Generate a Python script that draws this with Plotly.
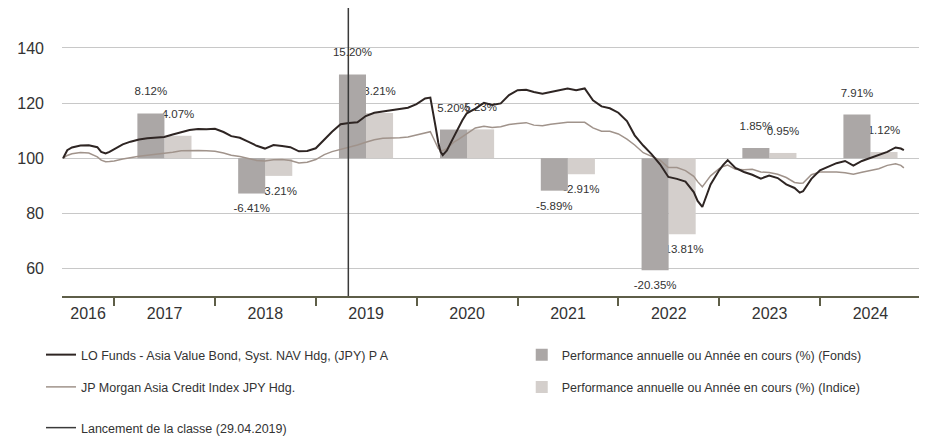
import pandas as pd
import plotly.graph_objects as go

# ---------------- data ----------------
dates = [
    "2016-06-30", "2016-07-15", "2016-08-01", "2016-09-01", "2016-10-01", "2016-11-01", "2016-11-15",
    "2016-12-01", "2016-12-15",
    "2017-01-01", "2017-02-01", "2017-03-01", "2017-04-01", "2017-05-01", "2017-06-01", "2017-07-01",
    "2017-08-01", "2017-09-01", "2017-10-01", "2017-11-01", "2017-12-01",
    "2018-01-01", "2018-02-01", "2018-03-01", "2018-04-01", "2018-05-01", "2018-06-01", "2018-07-01",
    "2018-08-01", "2018-09-01", "2018-10-01", "2018-11-01", "2018-12-01",
    "2019-01-01", "2019-02-01", "2019-03-01", "2019-04-01", "2019-05-01", "2019-06-01", "2019-07-01",
    "2019-08-01", "2019-09-01", "2019-10-01", "2019-11-01", "2019-12-01",
    "2020-01-01", "2020-02-01", "2020-02-20", "2020-03-01", "2020-03-10", "2020-03-20", "2020-03-28",
    "2020-04-05", "2020-04-20", "2020-05-01", "2020-05-15", "2020-06-01", "2020-06-15", "2020-07-01",
    "2020-08-01", "2020-09-01", "2020-10-01", "2020-11-01", "2020-12-01",
    "2021-01-01", "2021-02-01", "2021-03-01", "2021-04-01", "2021-05-01", "2021-06-01", "2021-07-01",
    "2021-08-01", "2021-09-01", "2021-10-01", "2021-11-01", "2021-12-01",
    "2022-01-01", "2022-02-01", "2022-03-01", "2022-04-01", "2022-05-01", "2022-06-01", "2022-07-01",
    "2022-08-01", "2022-09-01", "2022-10-01", "2022-10-15", "2022-11-01", "2022-11-15", "2022-12-01",
    "2023-01-01", "2023-01-15", "2023-02-01", "2023-03-01", "2023-04-01", "2023-05-01", "2023-06-01",
    "2023-07-01", "2023-08-01", "2023-09-01", "2023-10-01", "2023-10-20", "2023-11-01", "2023-12-01",
    "2024-01-01", "2024-02-01", "2024-03-01", "2024-04-01", "2024-05-01", "2024-06-01", "2024-07-01",
    "2024-08-01", "2024-09-01", "2024-10-01", "2024-10-20", "2024-10-31",
]
fund_nav = [
    100.0, 102.9, 103.9, 104.6, 104.7, 104.0, 102.3, 101.7, 102.3,
    103.3, 105.0, 106.0, 106.8, 107.2, 107.4, 107.7, 108.6, 109.5, 110.2, 110.6, 110.5,
    110.7, 109.5, 108.0, 107.4, 106.0, 104.5, 103.5, 104.8, 104.4, 104.0, 102.5, 102.6,
    103.6, 106.8, 109.6, 112.3, 112.8, 113.0, 115.3, 116.5, 117.0, 117.4, 117.8, 118.3,
    119.6, 121.7, 122.0, 117.0, 111.4, 105.5, 102.3, 101.1, 102.8, 105.0, 107.8, 111.4, 113.8, 116.3,
    118.0, 120.1, 119.3, 119.9, 122.9,
    124.7, 124.8, 124.0, 123.4, 124.0, 124.6, 125.3, 124.7, 125.3, 121.0, 118.8, 118.1,
    116.5, 113.5, 108.3, 104.6, 101.5, 97.8, 93.2, 92.5, 91.5, 87.7, 84.5, 82.3, 86.5, 90.5,
    95.6, 97.5, 99.3, 96.5, 95.0, 94.0, 92.6, 93.7, 92.8, 90.5, 89.2, 87.5, 88.0, 92.5,
    95.6, 96.8, 98.2, 99.0, 97.3, 99.0, 100.0, 101.2, 102.3, 103.9, 103.5, 102.9,
]
index_nav = [
    100.0, 101.0, 101.6, 102.1, 101.9, 100.5, 99.3, 98.7, 98.8,
    99.0, 99.7, 100.3, 100.7, 101.1, 101.4, 101.7, 102.2, 102.7, 102.8, 102.8, 102.7,
    102.5, 101.9, 101.1, 100.6, 99.8, 99.2, 99.0, 99.4, 99.5, 99.2, 98.3, 98.5,
    99.5, 101.3, 102.4, 103.2, 103.9, 104.8, 105.8, 106.7, 107.2, 107.2, 107.4, 107.7,
    108.4, 109.3, 109.6, 107.5, 105.5, 103.5, 102.9, 102.7, 103.5, 104.5, 105.8, 106.8, 107.8, 108.8,
    111.0, 111.6, 111.1, 111.4, 112.2,
    112.6, 112.9, 112.0, 111.8, 112.3, 112.6, 113.0, 113.0, 113.0, 111.0, 109.8, 109.8,
    108.8, 106.9, 104.8, 102.0, 100.8, 99.3, 96.6, 96.6, 95.5, 93.4, 91.5, 89.6, 91.5, 93.6,
    96.2, 97.0, 97.5, 96.0, 95.8, 96.0, 95.0, 94.8, 94.2, 93.0, 91.2, 90.9, 91.0, 94.0,
    95.0, 95.0, 95.0, 94.7, 94.2, 94.9, 95.5, 96.2, 97.4, 98.0, 97.4, 96.5,
]

bar_years = [2017, 2018, 2019, 2020, 2021, 2022, 2023, 2024]
fund_perf = [8.12, -6.41, 15.20, 5.20, -5.89, -20.35, 1.85, 7.91]
index_perf = [4.07, -3.21, 8.21, 5.23, -2.91, -13.81, 0.95, 1.12]

year_labels = ["2016", "2017", "2018", "2019", "2020", "2021", "2022", "2023", "2024"]
y_ticks = [60, 80, 100, 120, 140]
launch_date = "2019-04-29"

name_fund = "LO Funds - Asia Value Bond, Syst. NAV Hdg, (JPY) P A"
name_index = "JP Morgan Asia Credit Index JPY Hdg."
name_fund_bar = "Performance annuelle ou Année en cours (%) (Fonds)"
name_index_bar = "Performance annuelle ou Année en cours (%) (Indice)"
name_launch = "Lancement de la classe (29.04.2019)"

# ---------------- styling ----------------
X_START = pd.Timestamp("2016-06-26")
X_END = pd.Timestamp("2025-01-01")
Y_RANGE = [50, 154.5]
BASE = 100
SCALE = 2  # bar axis is half the scale of the NAV axis, 0 % aligned with 100
BAR_RANGE = [(Y_RANGE[0] - BASE) / SCALE, (Y_RANGE[1] - BASE) / SCALE]

C_FUND = "#2e2523"
C_INDEX = "#a0938b"
C_FUND_BAR = "#aba7a6"
C_INDEX_BAR = "#d4cfcc"
C_LAUNCH = "#3a3a3a"
C_AXIS = "#5e5e48"
C_GRID = "#c8c8c8"
C_TEXT = "#333333"
FONT = "Liberation Sans, Arial, sans-serif"

mid_year = [pd.Timestamp(f"{y}-07-02") for y in bar_years]
bar_w = pd.Timedelta(days=98) / pd.Timedelta(milliseconds=1)

spacer = "<span style='font-size:1px'>\u00a0</span>"
LABEL_FONT = dict(family=FONT, size=11.5, color=C_TEXT)


def bar_text(vals):
    out = []
    for v in vals:
        s = f"{v:.2f}%"
        out.append(s + "<br>" + spacer if v >= 0 else spacer + "<br>" + s)
    return out


# tick positions for year labels: middle of each (visible) year
label_pos = []
for lab in year_labels:
    a = max(pd.Timestamp(f"{lab}-01-01"), X_START)
    b = min(pd.Timestamp(f"{int(lab) + 1}-01-01"), X_END)
    label_pos.append(a + (b - a) / 2)
year_starts = [pd.Timestamp(f"{int(l) + 1}-01-01") for l in year_labels]

fig = go.Figure()

# bars (main subplot, drawn below the lines). Index first so fund bars cover its labels.
fig.add_trace(go.Bar(
    x=mid_year, y=index_perf, width=bar_w, offset=0,
    marker=dict(color=C_INDEX_BAR, line=dict(width=0)),
    text=bar_text(index_perf), textposition="outside", constraintext="none",
    textangle=0, cliponaxis=False,
    textfont=LABEL_FONT, outsidetextfont=LABEL_FONT,
    name=name_index_bar, legend="legend2", legendgroup="d", legendrank=2,
    hoverinfo="skip",
))
fig.add_trace(go.Bar(
    x=mid_year, y=fund_perf, width=bar_w, offset=-bar_w,
    marker=dict(color=C_FUND_BAR, line=dict(width=0)),
    text=bar_text(fund_perf), textposition="outside", constraintext="none",
    textangle=0, cliponaxis=False,
    textfont=LABEL_FONT, outsidetextfont=LABEL_FONT,
    name=name_fund_bar, legend="legend2", legendgroup="c", legendrank=1,
    hoverinfo="skip",
))

# lines (overlay subplot, drawn above the bars)
fig.add_trace(go.Scatter(
    x=dates, y=index_nav, yaxis="y2", mode="lines",
    line=dict(color=C_INDEX, width=1.5),
    name=name_index, legend="legend", legendgroup="b", legendrank=2,
))
fig.add_trace(go.Scatter(
    x=dates, y=fund_nav, yaxis="y2", mode="lines",
    line=dict(color=C_FUND, width=2),
    name=name_fund, legend="legend", legendgroup="a", legendrank=1,
))
fig.add_trace(go.Scatter(
    x=[launch_date, launch_date], y=Y_RANGE, yaxis="y2", mode="lines",
    line=dict(color=C_LAUNCH, width=1.5),
    name=name_launch, legend="legend3", cliponaxis=False,
))

LEG_FONT = dict(family=FONT, size=12.5, color=C_TEXT)

# the page body adds an 8 px offset; the figure is sized to fill the rest of the window
fig.update_layout(
    width=919, height=431,
    margin=dict(l=54, r=6, t=0, b=143, autoexpand=False),
    paper_bgcolor="white", plot_bgcolor="white",
    font=dict(family=FONT, size=15, color=C_TEXT),
    barmode="overlay",
    showlegend=True,
    xaxis=dict(
        type="date", range=[X_START, X_END],
        tickmode="array", tickvals=label_pos, ticktext=year_labels,
        ticks="", showgrid=False, zeroline=False,
        showline=True, linecolor=C_AXIS, linewidth=1.5,
        tickfont=dict(family=FONT, size=16, color=C_TEXT),
        ticklabelstandoff=2, automargin=False,
        minor=dict(tickmode="array", tickvals=year_starts, ticks="outside",
                   ticklen=8, tickwidth=1.5, tickcolor=C_AXIS, showgrid=False),
    ),
    yaxis=dict(range=BAR_RANGE, visible=False, showgrid=False, zeroline=False),
    yaxis2=dict(
        range=Y_RANGE, overlaying="y", side="left", anchor="x",
        tickmode="array", tickvals=y_ticks,
        showgrid=True, gridcolor=C_GRID, gridwidth=1,
        zeroline=False, showline=False, ticks="",
        tickfont=dict(family=FONT, size=16, color=C_TEXT),
        ticklabelstandoff=17, automargin=False,
    ),
    legend=dict(
        x=-0.02445, xanchor="left", y=-0.1528, yanchor="top",
        bgcolor="rgba(0,0,0,0)", font=LEG_FONT,
        tracegroupgap=13, traceorder="grouped", itemclick=False,
    ),
    legend2=dict(
        x=0.5352, xanchor="left", y=-0.1528, yanchor="top",
        bgcolor="rgba(0,0,0,0)", font=LEG_FONT,
        tracegroupgap=13, traceorder="grouped", itemclick=False,
    ),
    legend3=dict(
        x=-0.02445, xanchor="left", y=-0.40625, yanchor="top",
        bgcolor="rgba(0,0,0,0)", font=LEG_FONT,
        itemclick=False,
    ),
)

fig.write_html("out.html")
